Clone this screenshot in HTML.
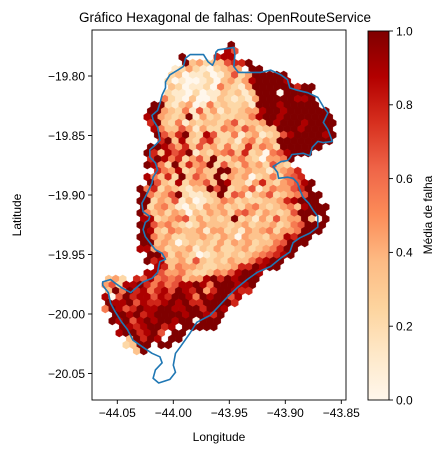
<!DOCTYPE html>
<html><head><meta charset="utf-8"><style>
body{margin:0;background:#fff}
svg{display:block;font-family:"Liberation Sans","DejaVu Sans",sans-serif}
</style></head><body>
<svg id="chart" width="448" height="454" viewBox="0 0 448 454" xmlns="http://www.w3.org/2000/svg">
<defs><linearGradient id="orrd" x1="0" y1="1" x2="0" y2="0">
<stop offset="0" stop-color="#fff7ec"/><stop offset="0.125" stop-color="#fee8c8"/><stop offset="0.25" stop-color="#fdd49e"/><stop offset="0.375" stop-color="#fdbb84"/><stop offset="0.5" stop-color="#fc8d59"/><stop offset="0.625" stop-color="#ef6548"/><stop offset="0.75" stop-color="#d7301f"/><stop offset="0.875" stop-color="#b30000"/><stop offset="1" stop-color="#7f0000"/></linearGradient>
<clipPath id="plotclip"><rect x="92" y="30" width="254" height="370"/></clipPath></defs>
<text x="225" y="22" font-size="13.5" text-anchor="middle">Gráfico Hexagonal de falhas: OpenRouteService</text>
<g id="hexes" clip-path="url(#plotclip)"></g>
<path id="outline" fill="none" stroke="#1f77b4" stroke-width="1.6" stroke-linejoin="round"/>
<rect x="92" y="30" width="254" height="370" fill="none" stroke="#000" stroke-width="0.9"/>
<g id="xticks"></g>
<g id="yticks"></g>
<text x="219" y="441" font-size="12" text-anchor="middle">Longitude</text>
<text x="0" y="0" font-size="12" text-anchor="middle" transform="translate(21,215) rotate(-90)">Latitude</text>
<rect x="368" y="31" width="21" height="369" fill="url(#orrd)" stroke="#000" stroke-width="0.9"/>
<g id="cbticks"></g>
<text x="0" y="0" font-size="12" text-anchor="middle" transform="translate(432,215) rotate(-90)">Média de falha</text>
</svg>
<script>
var xTicks=[-44.05,-44.00,-43.95,-43.90,-43.85];
var xTickLabels=["−44.05","−44.00","−43.95","−43.90","−43.85"];
var yTicks=[-19.80,-19.85,-19.90,-19.95,-20.00,-20.05];
var yTickLabels=["−19.80","−19.85","−19.90","−19.95","−20.00","−20.05"];
var cbTicks=[0,0.2,0.4,0.6,0.8,1.0];
var cbTickLabels=["0.0","0.2","0.4","0.6","0.8","1.0"];
// hex grid: first row latitude, first column longitude, steps (data units)
var gridLon0=-44.067, gridLat0=-19.774, gridDLon=0.00625, gridDLat=0.00504;
// per-row start column and values (digit 0-9 => 0..1, '.' = empty)
var rowStart=[19,18,12,12,11,10,10,10,10,9,8,7,7,7,8,8,9,7,7,7,7,8,7,7,6,6,6,6,6,6,6,6,6,6,6,7,7,8,7,1,1,1,1,1,1,2,2,3,3,4,4,5];
var rowVals=["9","86","9....788","9342336779","1242102344.99","23011201362499999","201001203424899998","320112053214999999799","211020113231399909999","5210300132121499999889","992134015232231999899999","99432516241323448998999999","894323914232233589989999999","793251323324623349899989999","85336414225436423399989999","96479328622513412368999989","7938326732314524399999999","9986473634252373542999999","973867913245637230568999","798572463922453204459","985293745926325342632","754823533994343313457","85372936439243402352567","963282446398331473245689","9572432133969234613544679","95346921123926513462345699","99243613012354232233478999","924531021434232453234538999","953424303243425642432369999","882345624232392314263449309","996453212433323423342356999","98325433414423143452445999","9953422334324304332448799","993430232324243423356999","88442334132422342345799","995243201232323456789","97833426323243357899","873544322334779899","88644532235468998","342.768565634489798999","4628897575688985999889","395978578698794799877","80697886879985989968","9889687789897799997","598679889988997998","9989789999899879","9896898998990999","98789978.99999","8997896.99","39798.99","2399.99","39"];
var boundaryLon=[-43.962,-43.960,-43.946,-43.945,-43.946,-43.942,-43.934,-43.922,-43.913,-43.904,-43.898,-43.896,-43.889,-43.880,-43.871,-43.866,-43.862,-43.866,-43.862,-43.858,-43.866,-43.871,-43.876,-43.878,-43.884,-43.894,-43.896,-43.898,-43.904,-43.909,-43.911,-43.907,-43.906,-43.898,-43.893,-43.889,-43.887,-43.884,-43.879,-43.875,-43.871,-43.871,-43.878,-43.887,-43.893,-43.896,-43.904,-43.913,-43.925,-43.934,-43.943,-43.952,-43.960,-43.967,-43.979,-43.985,-43.994,-43.998,-44.000,-43.998,-44.003,-44.013,-44.018,-44.016,-44.010,-44.012,-44.019,-44.027,-44.036,-44.041,-44.046,-44.052,-44.056,-44.058,-44.063,-44.063,-44.056,-44.052,-44.046,-44.038,-44.032,-44.027,-44.019,-44.014,-44.013,-44.012,-44.007,-44.010,-44.016,-44.021,-44.025,-44.027,-44.025,-44.022,-44.021,-44.027,-44.028,-44.023,-44.019,-44.018,-44.014,-44.016,-44.021,-44.021,-44.016,-44.012,-44.013,-44.014,-44.018,-44.019,-44.014,-44.012,-44.010,-44.007,-44.007,-44.003,-43.996,-43.991,-43.989,-43.985,-43.979,-43.973,-43.969,-43.965,-43.963];
var boundaryLat=[-19.780,-19.778,-19.776,-19.782,-19.792,-19.797,-19.797,-19.797,-19.795,-19.799,-19.803,-19.810,-19.812,-19.814,-19.818,-19.826,-19.831,-19.839,-19.845,-19.855,-19.856,-19.855,-19.860,-19.867,-19.865,-19.866,-19.869,-19.871,-19.872,-19.875,-19.876,-19.881,-19.886,-19.885,-19.886,-19.890,-19.896,-19.902,-19.907,-19.913,-19.918,-19.927,-19.932,-19.936,-19.940,-19.948,-19.953,-19.960,-19.965,-19.971,-19.978,-19.986,-19.994,-20.001,-20.007,-20.016,-20.028,-20.033,-20.043,-20.049,-20.055,-20.058,-20.054,-20.047,-20.041,-20.036,-20.033,-20.028,-20.022,-20.013,-20.007,-19.998,-19.991,-19.982,-19.976,-19.973,-19.971,-19.974,-19.978,-19.982,-19.977,-19.973,-19.970,-19.965,-19.960,-19.956,-19.954,-19.949,-19.946,-19.940,-19.935,-19.929,-19.923,-19.921,-19.918,-19.914,-19.907,-19.898,-19.890,-19.885,-19.879,-19.873,-19.868,-19.862,-19.858,-19.854,-19.848,-19.843,-19.837,-19.833,-19.829,-19.823,-19.816,-19.810,-19.805,-19.799,-19.795,-19.792,-19.785,-19.782,-19.782,-19.782,-19.788,-19.791,-19.787];

var NS="http://www.w3.org/2000/svg";
function xScale(lon){return 117.3+(lon+44.05)/0.2*224;}
function yScale(lat){return 76+(-19.80-lat)/0.25*297.5;}
function cScale(v){return 400-v*369;}
var stops=[[255,247,236],[254,232,200],[253,212,158],[253,187,132],[252,141,89],[239,101,72],[215,48,31],[179,0,0],[127,0,0]];
function color(v){var t=v*8,i=Math.min(7,Math.floor(t)),f=t-i,a=stops[i],b=stops[i+1];
 return "rgb("+[0,1,2].map(function(k){return Math.round(a[k]+(b[k]-a[k])*f);}).join(",")+")";}
function mk(tag,attrs,parent){var e=document.createElementNS(NS,tag);for(var k in attrs)e.setAttribute(k,attrs[k]);parent.appendChild(e);return e;}

var hg=document.getElementById('hexes');
var R=4.15;
for(var r=0;r<rowVals.length;r++){
 var s=rowVals[r];
 for(var j=0;j<s.length;j++){
  var ch=s.charAt(j); if(ch==='.')continue;
  var v=parseInt(ch,10)/9;
  var c=rowStart[r]+j;
  var lon=gridLon0+(c+(r%2?0.5:0))*gridDLon, lat=gridLat0-r*gridDLat;
  var cx=xScale(lon), cy=yScale(lat), pts=[];
  for(var k=0;k<6;k++){var ang=Math.PI/3*k+Math.PI/6;pts.push((cx+R*Math.cos(ang)).toFixed(2)+","+(cy+R*Math.sin(ang)).toFixed(2));}
  var p=mk('polygon',{points:pts.join(" "),fill:color(v),stroke:color(v),'stroke-width':0.3},hg);
  
  
 }
}
var d="";
for(var i=0;i<boundaryLon.length;i++){d+=(i?"L":"M")+xScale(boundaryLon[i]).toFixed(1)+","+yScale(boundaryLat[i]).toFixed(1);}
document.getElementById('outline').setAttribute('d',d+"Z");

var xg=document.getElementById('xticks');
xTicks.forEach(function(t,i){var x=xScale(t);
 var l=mk('line',{x1:x,x2:x,y1:400,y2:404,stroke:'#000','stroke-width':0.9},xg);
 
 
 var tx=mk('text',{x:x,y:417,'font-size':12,'text-anchor':'middle'},xg);tx.textContent=xTickLabels[i];
 
 });
var yg=document.getElementById('yticks');
yTicks.forEach(function(t,i){var y=yScale(t);
 var l=mk('line',{x1:88,x2:92,y1:y,y2:y,stroke:'#000','stroke-width':0.9},yg);
 
 
 var tx=mk('text',{x:85,y:y+4.3,'font-size':12,'text-anchor':'end'},yg);tx.textContent=yTickLabels[i];
 
 });
var cg=document.getElementById('cbticks');
cbTicks.forEach(function(t,i){var y=cScale(t);
 var l=mk('line',{x1:389,x2:393,y1:y,y2:y,stroke:'#000','stroke-width':0.9},cg);
 
 
 var tx=mk('text',{x:396,y:y+4.3,'font-size':12},cg);tx.textContent=cbTickLabels[i];
 
 });
</script>
</body></html>
